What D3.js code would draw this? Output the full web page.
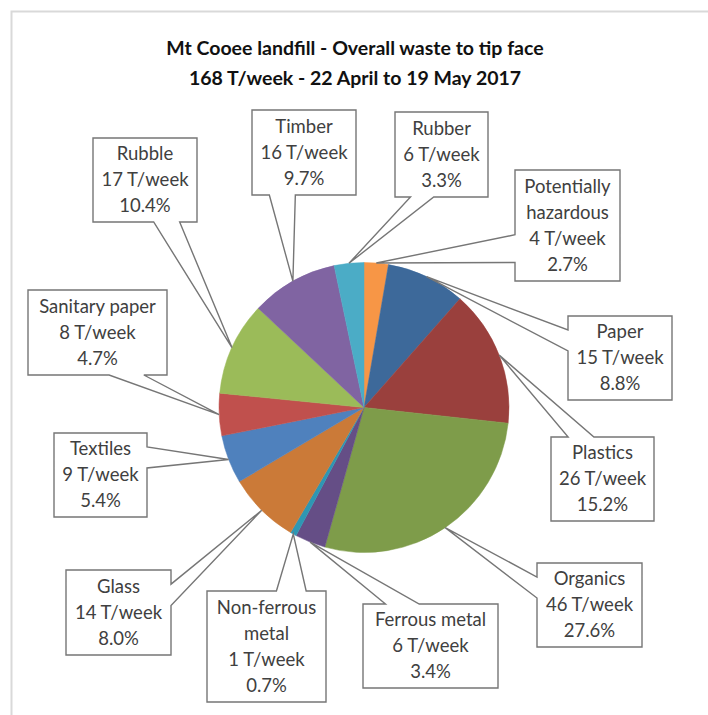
<!DOCTYPE html>
<html>
<head>
<meta charset="utf-8">
<script src="https://cdn.jsdelivr.net/npm/d3@7"></script>
<style>
  html, body { margin: 0; padding: 0; background: #fff; }
  svg { display: block; }
</style>
</head>
<body>
<svg id="chart" width="708" height="715"></svg>
<script>
// Waste stream composition at the Mt Cooee tip face, clockwise from 12 o'clock
const categories = [
  "Potentially\nhazardous", "Paper", "Plastics", "Organics", "Ferrous metal",
  "Non-ferrous\nmetal", "Glass", "Textiles", "Sanitary paper", "Rubble", "Timber", "Rubber"
];
const tonnesPerWeek = [4, 15, 26, 46, 6, 1, 14, 9, 8, 17, 16, 6];
const percentShare = [2.7, 8.8, 15.2, 27.6, 3.4, 0.7, 8.0, 5.4, 4.7, 10.4, 9.7, 3.3];
const sliceColors = [
  "#F79646", "#3D699A", "#9A403D", "#7E9C4A", "#654E86", "#2E97B3",
  "#CB7A38", "#4F81BD", "#C0504D", "#9BBB59", "#8064A2", "#4BACC6"
];
const titleLines = [
  "Mt Cooee landfill - Overall waste to tip face",
  "168 T/week - 22 April to 19 May 2017"
];

// Callout boxes placed around the pie: [left, top, right, bottom]
const labelBoxes = [
  [515, 170, 620, 281],
  [568, 316, 672, 400],
  [551, 437, 654, 521],
  [537, 563, 642, 647],
  [363, 604, 498, 688],
  [207, 591, 326, 702],
  [66, 570, 171, 655],
  [54, 433, 147, 517],
  [28, 290, 167, 375],
  [93, 138, 197, 222],
  [252, 110, 356, 195],
  [395, 112, 488, 197]
];

const svg = d3.select("#chart");
const cx = 364, cy = 407.5, radius = 145;
const fontFamily = "Lato, 'Liberation Sans', sans-serif";

// Chart area frame (runs off the right and bottom edges)
svg.append("rect")
  .attr("x", 11.5).attr("y", 11.5)
  .attr("width", 720).attr("height", 720)
  .attr("fill", "#fff")
  .attr("stroke", "#d9d9d9")
  .attr("stroke-width", 2);

// Title
svg.append("g")
  .selectAll("text")
  .data(titleLines)
  .join("text")
  .attr("x", 355)
  .attr("y", (d, i) => 55 + i * 30)
  .attr("text-anchor", "middle")
  .attr("font-family", fontFamily)
  .attr("font-weight", "bold")
  .attr("font-size", 19.5)
  .attr("fill", "#111")
  .text(d => d);

const data = categories.map((name, i) => ({
  name, tonnes: tonnesPerWeek[i], pct: percentShare[i], color: sliceColors[i], box: labelBoxes[i]
}));

const pie = d3.pie().sort(null).value(d => d.pct).startAngle(0).endAngle(2 * Math.PI);
const arcs = pie(data);
const arc = d3.arc().innerRadius(0).outerRadius(radius);

const pieG = svg.append("g").attr("transform", `translate(${cx},${cy})`);
pieG.selectAll("path")
  .data(arcs)
  .join("path")
  .attr("d", arc)
  .attr("fill", d => d.data.color)
  .attr("stroke", d => d.data.color)
  .attr("stroke-width", 0.5);

// Rectangular callout with a wedge pointing at (px, py), following the
// wedgeRectCallout preset geometry
function calloutPath(box, px, py) {
  const [l, t, r, b] = box;
  const w = r - l, h = b - t, hc = (l + r) / 2, vc = (t + b) / 2;
  const dxPos = px - hc, dyPos = py - vc;
  const dx = dxPos * h, dy = dyPos * w;
  const xg1 = dxPos > 0 ? 7 : 2, xg2 = dxPos > 0 ? 10 : 5;
  const yg1 = dyPos > 0 ? 7 : 2, yg2 = dyPos > 0 ? 10 : 5;
  const x1 = l + w * xg1 / 12, x2 = l + w * xg2 / 12;
  const y1 = t + h * yg1 / 12, y2 = t + h * yg2 / 12;
  const horiz = Math.abs(dx) > Math.abs(dy);
  const side = horiz ? (dx < 0 ? "left" : "right") : (dy < 0 ? "top" : "bottom");
  const p = d3.path();
  p.moveTo(l, t);
  if (side === "top") { p.lineTo(x1, t); p.lineTo(px, py); p.lineTo(x2, t); }
  p.lineTo(r, t);
  if (side === "right") { p.lineTo(r, y1); p.lineTo(px, py); p.lineTo(r, y2); }
  p.lineTo(r, b);
  if (side === "bottom") { p.lineTo(x2, b); p.lineTo(px, py); p.lineTo(x1, b); }
  p.lineTo(l, b);
  if (side === "left") { p.lineTo(l, y2); p.lineTo(px, py); p.lineTo(l, y1); }
  p.closePath();
  return p.toString();
}

const lineGap = 26;
const labels = svg.append("g").selectAll("g")
  .data(arcs)
  .join("g");

labels.append("path")
  .attr("d", d => {
    const mid = (d.startAngle + d.endAngle) / 2;
    const px = cx + radius * Math.sin(mid);
    const py = cy - radius * Math.cos(mid);
    return calloutPath(d.data.box, px, py);
  })
  .attr("fill", "#fff")
  .attr("stroke", "#767676")
  .attr("stroke-width", 1.4)
  .attr("stroke-linejoin", "miter");

labels.each(function(d) {
  const [l, t, r, b] = d.data.box;
  const lines = d.data.name.split("\n")
    .concat([`${d.data.tonnes} T/week`, `${d.data.pct.toFixed(1)}%`]);
  const hc = (l + r) / 2, vc = (t + b) / 2;
  d3.select(this).selectAll("text")
    .data(lines)
    .join("text")
    .attr("x", hc)
    .attr("y", (s, i) => vc + (i - (lines.length - 1) / 2) * lineGap)
    .attr("dy", "0.35em")
    .attr("text-anchor", "middle")
    .attr("font-family", fontFamily)
    .attr("font-size", 18.5)
    .attr("fill", "#404040")
    .text(s => s);
});
</script>
</body>
</html>
